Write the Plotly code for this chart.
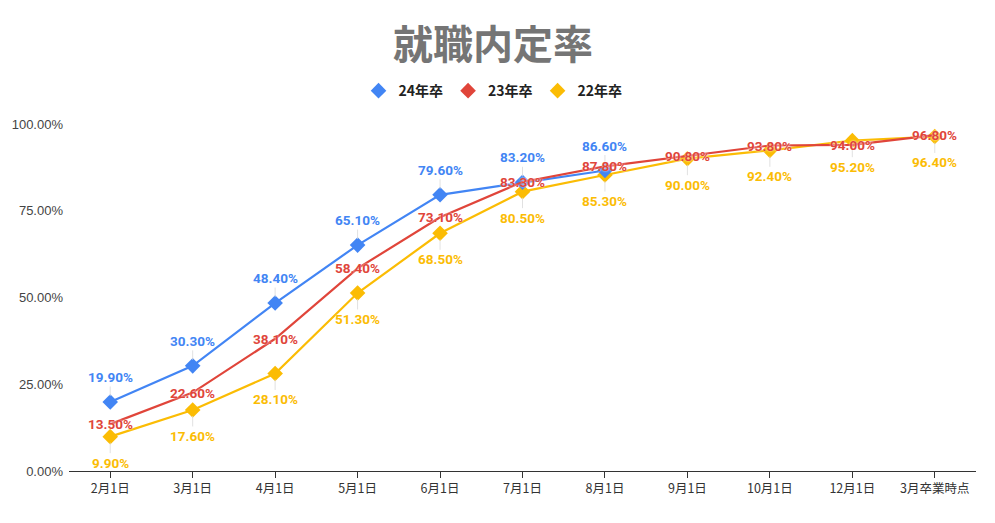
import plotly.graph_objects as go

# data
categories = ["2月1日", "3月1日", "4月1日", "5月1日", "6月1日", "7月1日",
              "8月1日", "9月1日", "10月1日", "12月1日", "3月卒業時点"]
y24 = [19.9, 30.3, 48.4, 65.1, 79.6, 83.2, 86.6]
y23 = [13.5, 22.6, 38.1, 58.4, 73.1, 83.3, 87.8, 90.8, 93.8, 94.0, 96.8]
y22 = [9.9, 17.6, 28.1, 51.3, 68.5, 80.5, 85.3, 90.0, 92.4, 95.2, 96.4]
y_ticks = [0, 25, 50, 75, 100]

BLUE = "#4285F4"
RED = "#E0453A"
YELLOW = "#FBBC04"
LABEL_FONT = "Roboto, Noto Sans CJK JP, sans-serif"

fig = go.Figure()

# lines (yellow under, blue, red on top)
fig.add_trace(go.Scatter(x=categories, y=y22, mode="lines+markers", showlegend=False,
                         line=dict(color=YELLOW, width=2.2),
                         marker=dict(symbol="diamond", size=12, color=YELLOW)))
fig.add_trace(go.Scatter(x=categories[:len(y24)], y=y24, mode="lines+markers", showlegend=False,
                         line=dict(color=BLUE, width=2.2),
                         marker=dict(symbol="diamond", size=12, color=BLUE)))
fig.add_trace(go.Scatter(x=categories, y=y23, mode="lines", showlegend=False,
                         line=dict(color=RED, width=2.2)))

# data labels, with thin leader lines for the offset ones
def add_labels(xs, ys, color, offset):
    for x, y in zip(xs, ys):
        fig.add_annotation(x=x, y=y, text=f"{y:.2f}%",
                           showarrow=offset != 0, ax=0, ay=offset, arrowhead=0,
                           arrowwidth=0.8, arrowcolor="#d9d9d9", standoff=6,
                           font=dict(family=LABEL_FONT, size=13.5, color=color, weight="bold",
                                     shadow="0px 0px 2px white"))

add_labels(categories, y22, YELLOW, 26)
add_labels(categories[:len(y24)], y24, BLUE, -25)
add_labels(categories, y23, RED, 0)

# legend entries (markers only)
for name, color in [("24年卒", BLUE), ("23年卒", RED), ("22年卒", YELLOW)]:
    fig.add_trace(go.Scatter(x=[None], y=[None], mode="markers", name=name,
                             marker=dict(symbol="diamond", size=12, color=color)))

# page body has an 8px margin, so the figure is a bit smaller than the window
fig.update_layout(
    width=987, height=515,
    paper_bgcolor="white", plot_bgcolor="white",
    margin=dict(l=61, r=19, t=116, b=52),
    title=dict(text="<b>就職内定率</b>", x=0.4675, xref="paper", xanchor="center",
               y=0.928, yanchor="middle",
               font=dict(family="Noto Sans CJK JP", size=40, color="#757575")),
    legend=dict(orientation="h", x=0.4675, xanchor="center", y=1.095, yanchor="middle",
                font=dict(family="Noto Sans CJK JP", size=14, color="#222222", weight="bold"),
                itemwidth=30, tracegroupgap=0),
    xaxis=dict(type="category", range=[-0.5, 10.5], showgrid=False, showline=True,
               linecolor="#333333", linewidth=1,
               ticks="outside", ticklen=6, tickcolor="#333333", automargin=False,
               tickfont=dict(family="Noto Sans CJK JP", size=12.5, color="#333333")),
    yaxis=dict(range=[0, 100], tickvals=y_ticks, ticktext=[f"{v:.2f}%" for v in y_ticks],
               showgrid=False, zeroline=False, showline=False, automargin=False,
               ticklabelstandoff=5,
               tickfont=dict(family="Liberation Sans, Arial", size=13, color="#444444")),
)

fig.write_html("out.html")
